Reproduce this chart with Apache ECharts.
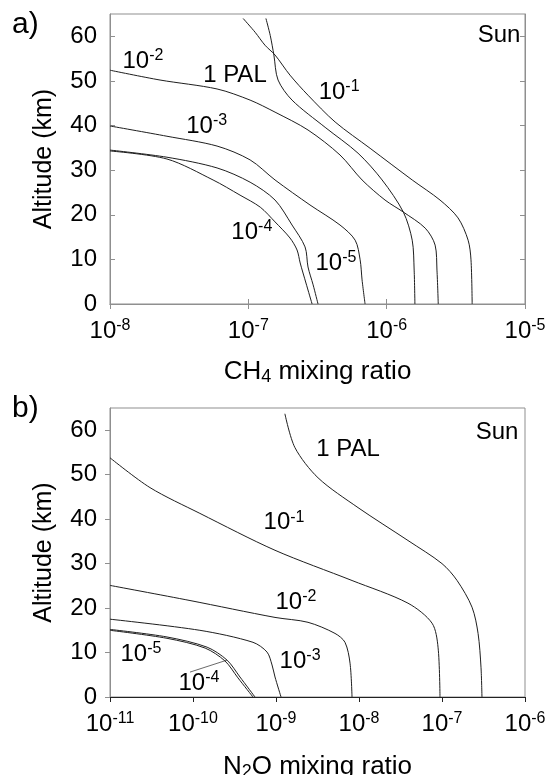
<!DOCTYPE html>
<html>
<head>
<meta charset="utf-8">
<script src="https://cdn.jsdelivr.net/npm/echarts@6/dist/echarts.min.js"></script>
<style>
html,body{margin:0;padding:0;background:#fff;}
#chart{width:550px;height:775px;}
</style>
</head>
<body>
<div id="chart"></div>
<script>
// ---------- Tick values ----------
const altTicks = [0, 10, 20, 30, 40, 50, 60];
const ch4Exponents = [-8, -7, -6, -5];
const n2oExponents = [-11, -10, -9, -8, -7, -6];

// ---------- Panel a) CH4 (Sun) ----------
const ch4_pal_x   = [1.34e-7, 1.44e-7, 1.53e-7, 1.64e-7, 2.07e-7, 3.59e-7, 6.21e-7, 9.27e-7, 1.32e-6, 1.53e-6, 1.58e-6, 1.60e-6];
const ch4_pal_alt = [64.0, 60.2, 55.8, 50.2, 45.7, 39.6, 33.8, 27.8, 20.6, 14.3, 7.6, 0];

const ch4_1m1_x   = [9.17e-8, 1.12e-7, 1.32e-7, 1.56e-7, 2.0e-7, 2.70e-7, 4.24e-7, 7.59e-7, 1.53e-6, 2.43e-6, 3.28e-6, 3.88e-6, 4.07e-6, 4.15e-6];
const ch4_1m1_alt = [64.0, 60.9, 58.0, 55.8, 51.3, 46.8, 40.8, 34.9, 27.8, 23.3, 19.3, 14.3, 9.9, 0];

const ch4_1m2_x   = [1.0e-8, 2.30e-8, 5.94e-8, 1.03e-7, 1.56e-7, 2.70e-7, 4.60e-7, 6.64e-7, 9.73e-7, 1.32e-6, 1.90e-6, 2.24e-6, 2.31e-6, 2.36e-6];
const ch4_1m2_alt = [52.4, 50.2, 48.2, 45.7, 43.0, 39.0, 33.4, 27.8, 23.3, 20.6, 17.0, 13.2, 7.6, 0];

const ch4_1m3_x   = [1.0e-8, 2.58e-8, 5.94e-8, 1.03e-7, 1.56e-7, 2.79e-7, 4.60e-7, 5.92e-7, 6.43e-7, 6.64e-7, 6.98e-7];
const ch4_1m3_alt = [39.9, 37.6, 35.4, 32.3, 27.8, 22.2, 17.7, 14.3, 9.9, 5.4, 0];

const ch4_1m4_x   = [1.0e-8, 2.58e-8, 5.56e-8, 8.71e-8, 1.22e-7, 1.56e-7, 2.0e-7, 2.25e-7, 2.37e-7, 2.61e-7, 2.89e-7];
const ch4_1m4_alt = [34.3, 32.5, 27.8, 24.4, 21.7, 18.4, 14.8, 12.1, 9.2, 4.7, 0];

const ch4_1m5_x   = [1.0e-8, 2.58e-8, 5.94e-8, 1.03e-7, 1.56e-7, 2.07e-7, 2.57e-7, 2.70e-7, 2.94e-7, 3.19e-7];
const ch4_1m5_alt = [34.5, 32.9, 30.5, 27.3, 23.3, 17.7, 12.8, 8.3, 4.3, 0];

// ---------- Panel b) N2O (Sun) ----------
const n2o_pal_x   = [1.28e-9, 1.69e-9, 3.21e-9, 9.73e-9, 3.89e-8, 1.0e-7, 1.52e-7, 2.30e-7, 2.72e-7, 2.95e-7, 3.03e-7];
const n2o_pal_alt = [63.7, 56.1, 49.3, 42.6, 35.2, 30.0, 26.2, 20.2, 14.3, 6.7, 0];

const n2o_1m1_x   = [1.0e-11, 3.03e-11, 1.21e-10, 9.73e-10, 8.24e-9, 3.89e-8, 7.59e-8, 8.96e-8, 9.46e-8];
const n2o_1m1_alt = [53.8, 47.1, 41.3, 33.0, 26.2, 21.1, 16.6, 11.2, 0];

const n2o_1m2_x   = [1.0e-11, 9.2e-11, 9.73e-10, 2.43e-9, 5.14e-9, 6.78e-9, 7.80e-9, 8.24e-9];
const n2o_1m2_alt = [25.1, 21.7, 17.9, 16.8, 14.3, 12.3, 7.6, 0];

const n2o_1m3_x   = [1.0e-11, 1.21e-10, 5.28e-10, 7.80e-10, 8.96e-10, 9.73e-10, 1.15e-9];
const n2o_1m3_alt = [17.5, 15.0, 12.3, 10.1, 7.2, 4.5, 0];

const n2o_1m4_x   = [1.0e-11, 4.86e-11, 1.40e-10, 2.43e-10, 3.48e-10, 5.28e-10];
const n2o_1m4_alt = [15.0, 13.2, 11.0, 8.1, 4.3, 0];

const n2o_1m5_x   = [1.0e-11, 4.86e-11, 1.48e-10, 2.57e-10, 3.68e-10, 5.58e-10];
const n2o_1m5_alt = [15.2, 13.5, 11.2, 8.3, 4.5, 0];

// leader line from the "10-4" label to its curve (panel b)
const n2o_leader_x   = [9.2e-11, 2.57e-10];
const n2o_leader_alt = [5.6, 8.3];

// ---------- In-plot labels ----------
const ch4LabelText = ['10', '1 PAL', '10', 'Sun', '10', '10', '10'];
const ch4LabelSup  = ['-2', '', '-3', '', '-1', '-4', '-5'];
const ch4LabelX    = [1.73e-8, 8.0e-8, 5.0e-8, 6.5e-6, 4.53e-7, 1.06e-7, 4.30e-7];
const ch4LabelAlt  = [54.4, 51.3, 39.9, 60.2, 47.5, 16.1, 9.2];

const n2oLabelText = ['Sun', '1 PAL', '10', '10', '10', '10', '10'];
const n2oLabelSup  = ['', '', '-1', '-2', '-3', '-5', '-4'];
const n2oLabelX    = [4.6e-7, 7.4e-9, 1.25e-9, 1.74e-9, 1.95e-9, 2.36e-11, 1.18e-10];
const n2oLabelAlt  = [59.6, 55.6, 39.2, 21.3, 8.1, 9.6, 3.1];

// ---------- Styling ----------
const FONT = 'Liberation Sans, Arial, sans-serif';
const FRAME = '#8f8f8f';
const LINE = '#1e1e1e';
const tickRich = {
  b: { fontSize: 24, fontFamily: FONT, color: '#000', lineHeight: 27 },
  s: { fontSize: 16, fontFamily: FONT, color: '#000', verticalAlign: 'top', lineHeight: 16 }
};
const labelRich = {
  b: { fontSize: 24, fontFamily: FONT, color: '#000', lineHeight: 27 },
  s: { fontSize: 16, fontFamily: FONT, color: '#000', verticalAlign: 'top', lineHeight: 16 }
};

function zip(xs, ys) { return xs.map((x, i) => [x, ys[i]]); }
function expLabel(v) {
  const e = Math.round(Math.log10(v));
  return '{b|10}{s|' + e + '}';
}
function curve(name, xs, ys, gi) {
  return {
    type: 'line', name: name, xAxisIndex: gi === 0 ? 0 : 2, yAxisIndex: gi === 0 ? 0 : 2,
    data: zip(xs, ys), showSymbol: false, symbol: 'none', smooth: 0.3,
    lineStyle: { color: LINE, width: 1 }, silent: true, z: 3
  };
}
function labelSeries(texts, sups, xs, ys, gi) {
  return {
    type: 'scatter', xAxisIndex: gi === 0 ? 0 : 2, yAxisIndex: gi === 0 ? 0 : 2,
    symbolSize: 0, silent: true, z: 5, itemStyle: { color: '#000', opacity: 1 },
    data: xs.map((x, i) => ({ value: [x, ys[i]], t: texts[i], s: sups[i] })),
    label: {
      show: true, position: 'inside', color: '#000', opacity: 1, textBorderWidth: 0, rich: labelRich,
      formatter: p => p.data.s ? '{b|' + p.data.t + '}{s|' + p.data.s + '}' : '{b|' + p.data.t + '}'
    }
  };
}

const chart = echarts.init(document.getElementById('chart'), null, { renderer: 'canvas' });

const grids = [
  { left: 110, top: 14, width: 415, height: 290, show: true, borderColor: FRAME, borderWidth: 1,
    containLabel: false, outerBoundsMode: 'none' },
  { left: 110, top: 408, width: 415, height: 289, show: true, borderColor: FRAME, borderWidth: 1,
    containLabel: false, outerBoundsMode: 'none' }
];

function logAxis(gi, minE, maxE, exps, pos, showLbl, tickInside, name, lineColor, gap) {
  return {
    type: 'log', logBase: 10, gridIndex: gi, position: pos,
    min: Math.pow(10, minE), max: Math.pow(10, maxE),
    axisLine: { show: true, lineStyle: { color: lineColor || FRAME, width: 1 } },
    axisTick: { show: true, inside: tickInside, length: 5, lineStyle: { color: lineColor || FRAME } },
    minorTick: { show: false },
    splitLine: { show: false },
    axisLabel: {
      show: showLbl, margin: 14, rich: tickRich,
      formatter: expLabel,
      customValues: exps.map(e => Math.pow(10, e))
    },
    name: name || '', nameLocation: 'middle', nameGap: gap || 56, nameMoveOverlap: false,
    nameTextStyle: { rich: {
      n: { fontSize: 26, fontFamily: FONT, color: '#000', lineHeight: 29 },
      sub: { fontSize: 18, fontFamily: FONT, color: '#000', verticalAlign: 'bottom', lineHeight: 18 }
    } }
  };
}
function altAxis(gi, pos, showLbl, tickInside) {
  return {
    type: 'value', gridIndex: gi, position: pos, min: 0, max: 65,
    axisLine: { show: true, lineStyle: { color: FRAME, width: 1 } },
    axisTick: { show: true, inside: tickInside, length: 5, lineStyle: { color: FRAME }, customValues: altTicks },
    splitLine: { show: false },
    axisLabel: { show: showLbl, margin: 13, fontSize: 24, fontFamily: FONT, color: '#000', customValues: altTicks },
    name: showLbl ? 'Altitude (km)' : '', nameLocation: 'middle', nameRotate: 90, nameGap: 53,
    nameTextStyle: { fontSize: 25, fontFamily: FONT, color: '#000' }
  };
}

const option = {
  animation: false,
  backgroundColor: '#fff',
  grid: grids,
  xAxis: [
    logAxis(0, -8, -5, ch4Exponents, 'bottom', true, true, '{n|CH}{sub|4}{n| mixing ratio}', null, 53),
    logAxis(0, -8, -5, ch4Exponents, 'top', false, true, ''),
    logAxis(1, -11, -6, n2oExponents, 'bottom', true, false, '{n|N}{sub|2}{n|O mixing ratio}', '#222', 55),
  ],
  yAxis: [
    altAxis(0, 'left', true, true),
    altAxis(0, 'right', false, true),
    altAxis(1, 'left', true, false)
  ],
  graphic: [
    { type: 'text', left: 12, top: 10, style: { text: 'a)', fontSize: 30, fontFamily: FONT, fill: '#000' } },
    { type: 'text', left: 12, top: 394, style: { text: 'b)', fontSize: 30, fontFamily: FONT, fill: '#000' } }
  ],
  series: [
    curve('CH4 1 PAL', ch4_pal_x, ch4_pal_alt, 0),
    curve('CH4 1e-1', ch4_1m1_x, ch4_1m1_alt, 0),
    curve('CH4 1e-2', ch4_1m2_x, ch4_1m2_alt, 0),
    curve('CH4 1e-3', ch4_1m3_x, ch4_1m3_alt, 0),
    curve('CH4 1e-4', ch4_1m4_x, ch4_1m4_alt, 0),
    curve('CH4 1e-5', ch4_1m5_x, ch4_1m5_alt, 0),
    curve('N2O 1 PAL', n2o_pal_x, n2o_pal_alt, 1),
    curve('N2O 1e-1', n2o_1m1_x, n2o_1m1_alt, 1),
    curve('N2O 1e-2', n2o_1m2_x, n2o_1m2_alt, 1),
    curve('N2O 1e-3', n2o_1m3_x, n2o_1m3_alt, 1),
    curve('N2O 1e-4', n2o_1m4_x, n2o_1m4_alt, 1),
    curve('N2O 1e-5', n2o_1m5_x, n2o_1m5_alt, 1),
    Object.assign(curve('leader', n2o_leader_x, n2o_leader_alt, 1), { smooth: false, lineStyle: { color: '#444', width: 0.8 } }),
    labelSeries(ch4LabelText, ch4LabelSup, ch4LabelX, ch4LabelAlt, 0),
    labelSeries(n2oLabelText, n2oLabelSup, n2oLabelX, n2oLabelAlt, 1)
  ]
};
chart.setOption(option);
</script>
</body>
</html>
